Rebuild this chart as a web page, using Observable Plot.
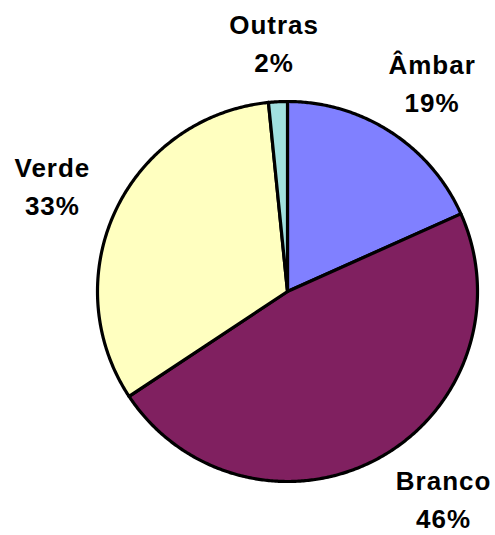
<!DOCTYPE html>
<html><head><meta charset="utf-8">
<script src="https://cdn.jsdelivr.net/npm/d3@7"></script>
<script src="https://cdn.jsdelivr.net/npm/@observablehq/plot@0.6"></script>
<style>body{margin:0;background:#fff}</style>
</head><body><div id="chart"></div>
<script>
const categories = ["Âmbar", "Branco", "Verde", "Outras"];
const shares = [18.3, 47.4, 32.7, 1.6];
const shareLabels = ["19%", "46%", "33%", "2%"];
const colors = ["#8080FF", "#802060", "#FFFFC0", "#A0E0E0"];

const W = 495, H = 535, R = 190, CX = 287, CY = 291;
const FONT_SIZE = 26, LINE_H = 1.46, LETTER = 1;

const total = d3.sum(shares);
let cum = 0;
const slices = categories.map((name, i) => {
  const a0 = cum / total * 2 * Math.PI;
  cum += shares[i];
  const a1 = cum / total * 2 * Math.PI;
  return {name, a0, a1, lines: [name, shareLabels[i]]};
});
const pts = [];
for (const s of slices) {
  const n = Math.max(2, Math.ceil((s.a1 - s.a0) / (Math.PI / 360)));
  pts.push({name: s.name, u: 0, v: 0});
  for (let k = 0; k <= n; k++) {
    const a = s.a0 + (s.a1 - s.a0) * k / n;
    pts.push({name: s.name, u: Math.sin(a), v: Math.cos(a)});
  }
  pts.push({name: s.name, u: 0, v: 0});
}

// label placement: anchor outside the pie, box pushed outward, kept inside frame
const ctx = document.createElement("canvas").getContext("2d");
ctx.font = `bold ${FONT_SIZE}px 'Liberation Sans', Arial, sans-serif`;
const labelR = 1.17;
const edge = 10;
const labels = slices.map(s => {
  const w = d3.max(s.lines, t => ctx.measureText(t).width + LETTER * t.length) / R;
  const h = FONT_SIZE * (LINE_H * (s.lines.length - 1) + 0.75) / R;
  const place = m => ({
    u: labelR * Math.sin(m) + (w / 2) * Math.sin(m),
    v: labelR * Math.cos(m) + (h / 2) * Math.cos(m)
  });
  let m = (s.a0 + s.a1) / 2;
  const vMin = -(H - CY - edge) / R + h / 2;
  let p = place(m);
  const dir = Math.sin(m) >= 0 ? -1 : 1;
  let guard = 0;
  while (p.v < vMin && guard++ < 400) { m += dir * Math.PI / 720; p = place(m); }
  return {label: s.lines.join("\n"), u: p.u, v: p.v};
});

const chart = Plot.plot({
  width: W,
  height: H,
  margin: 0,
  style: `font-family:'Liberation Sans', Arial, sans-serif; letter-spacing:${LETTER}px; background:#fff;`,
  x: {domain: [-CX / R, (W - CX) / R], axis: null},
  y: {domain: [-(H - CY) / R, CY / R], axis: null},
  color: {domain: categories, range: colors},
  marks: [
    Plot.line(pts, {x: "u", y: "v", z: "name", fill: "name", stroke: "#000", strokeWidth: 3.2, strokeLinejoin: "round"}),
    Plot.text(labels, {x: "u", y: "v", text: "label", fontSize: FONT_SIZE, fontWeight: "bold", lineHeight: LINE_H, fill: "#000"})
  ]
});
document.getElementById("chart").appendChild(chart);
</script>
</body></html>
